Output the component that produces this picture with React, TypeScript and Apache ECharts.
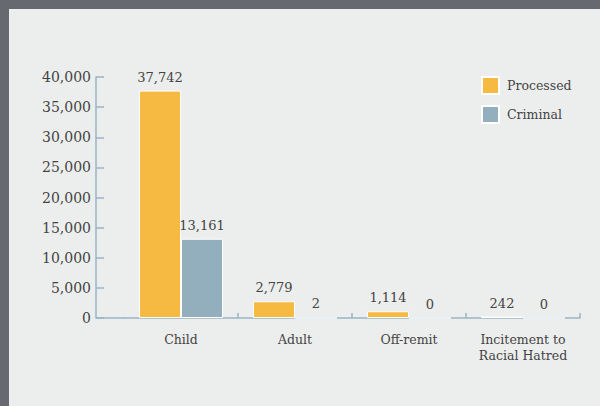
import React, { useEffect, useRef } from "react";
import * as echarts from "echarts";

const categories = ["Child", "Adult", "Off-remit", "Incitement to\nRacial Hatred"];
const processed = [37742, 2779, 1114, 242];
const criminal = [13161, 2, 0, 0];
const seriesNames = ["Processed", "Criminal"];
const yMax = 40000;
const yInterval = 5000;

const FONT = "DejaVu Serif";
const TEXT = "#444444";
const AXIS = "#9ab4c5";

export default function App() {
  const ref = useRef<HTMLDivElement>(null);
  useEffect(() => {
    if (!ref.current) return;
    const chart = echarts.init(ref.current, null, { renderer: "svg" });
    const fmt = (v: number) => Number(v).toLocaleString("en-US");
    chart.setOption({
      animation: false,
      backgroundColor: "#eceeed",
      textStyle: { fontFamily: FONT, color: TEXT },
      grid: { left: 124, right: 20, top: 77, bottom: 88 },
      legend: {
        orient: "vertical",
        left: 481,
        top: 76,
        padding: 0,
        icon: "rect",
        itemWidth: 17,
        itemHeight: 17,
        itemGap: 10,
        data: seriesNames,
        textStyle: { fontFamily: FONT, fontSize: 12.5, color: TEXT, padding: [0, 0, 0, 3] },
      },
      xAxis: {
        type: "category",
        data: categories,
        axisLine: { lineStyle: { color: AXIS, width: 1.5 } },
        axisTick: {
          show: true,
          inside: true,
          length: 5,
          interval: (i: number) => i !== 0,
          lineStyle: { color: AXIS, width: 1.5 },
        },
        axisLabel: {
          interval: 0,
          fontFamily: FONT,
          fontSize: 12.5,
          color: TEXT,
          margin: 13,
          lineHeight: 16,
        },
      },
      yAxis: {
        type: "value",
        min: 0,
        max: yMax,
        interval: yInterval,
        offset: 28,
        splitLine: { show: false },
        axisLine: { show: true, lineStyle: { color: AXIS, width: 1.5 } },
        axisTick: { show: true, inside: true, length: 8, lineStyle: { color: AXIS, width: 1.5 } },
        axisLabel: {
          fontFamily: FONT,
          fontSize: 14,
          color: TEXT,
          margin: 5,
          formatter: (v: number) => fmt(v),
        },
      },
      graphic: [
        {
          type: "line",
          shape: { x1: 96, y1: 318, x2: 124, y2: 318 },
          style: { stroke: AXIS, lineWidth: 1.5 },
        },
        { type: "rect", shape: { x: 0, y: 0, width: 600, height: 9 }, style: { fill: "#66696f" } },
        { type: "rect", shape: { x: 0, y: 0, width: 9, height: 406 }, style: { fill: "#66696f" } },
      ],
      series: [
        {
          name: seriesNames[0],
          type: "bar",
          data: processed,
          barWidth: 42,
          barGap: "0%",
          itemStyle: { color: "#f6b941", borderColor: "#ffffff", borderWidth: 1 },
          label: {
            show: true,
            position: "top",
            distance: 7,
            fontFamily: FONT,
            fontSize: 13,
            color: TEXT,
            formatter: (p: any) => fmt(p.value),
          },
        },
        {
          name: seriesNames[1],
          type: "bar",
          data: criminal,
          barWidth: 42,
          barGap: "0%",
          itemStyle: { color: "#93aebd", borderColor: "#ffffff", borderWidth: 1 },
          label: {
            show: true,
            position: "top",
            distance: 7,
            fontFamily: FONT,
            fontSize: 13,
            color: TEXT,
            formatter: (p: any) => fmt(p.value),
          },
        },
      ],
    });
    return () => chart.dispose();
  }, []);
  return (
    <div
      ref={ref}
      style={{ position: "absolute", left: 0, top: 0, width: 600, height: 406 }}
    />
  );
}
